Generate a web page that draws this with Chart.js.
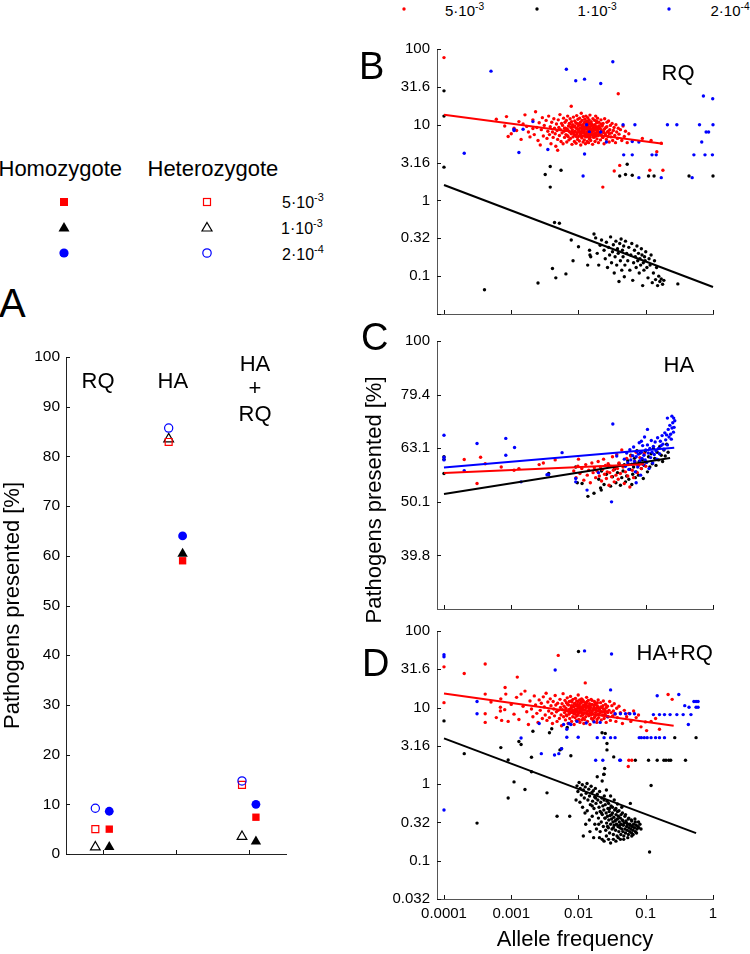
<!DOCTYPE html>
<html><head><meta charset="utf-8">
<script src="https://cdn.jsdelivr.net/npm/chart.js@4.4.1/dist/chart.umd.min.js"></script>
<style>
html,body{margin:0;padding:0;background:#fff;}
body{width:750px;height:954px;position:relative;overflow:hidden;font-family:'Liberation Sans',Arial,Helvetica,sans-serif;color:#000;}
canvas{position:absolute;}
.t{position:absolute;white-space:nowrap;line-height:1;}
.c{transform:translateX(-50%);}
.s{font-size:0.68em;position:relative;}
</style></head><body>
<svg width="750" height="954" style="position:absolute;left:0;top:0">
  <circle cx="404" cy="9" r="1.7" fill="#ff0000"/>
  <circle cx="537" cy="9" r="1.7" fill="#000"/>
  <circle cx="669" cy="9" r="1.7" fill="#0000ff"/>
  <rect x="60" y="198" width="8" height="8" fill="#ff0000"/>
  <polygon points="64,222 69.5,231.5 58.5,231.5" fill="#000"/>
  <circle cx="64" cy="253" r="4.6" fill="#0000ff"/>
  <rect x="203.5" y="198.5" width="7" height="7" fill="none" stroke="#ff0000" stroke-width="1.2"/>
  <polygon points="207,222.5 212,231 202,231" fill="none" stroke="#000" stroke-width="1.2"/>
  <circle cx="207" cy="253" r="4.2" fill="none" stroke="#0000ff" stroke-width="1.2"/>
</svg>
<canvas id="cA" width="300" height="530" style="left:0;top:340px"></canvas>
<canvas id="cB" width="400" height="300" style="left:330px;top:30px"></canvas>
<canvas id="cC" width="400" height="300" style="left:330px;top:325px"></canvas>
<canvas id="cD" width="400" height="339" style="left:330px;top:615px"></canvas>

<div class="t" style="font-size:15px;left:445px;top:3px">5·10<span class="s" style="top:-6px">-3</span></div>
<div class="t" style="font-size:15px;left:577.5px;top:3px">1·10<span class="s" style="top:-6px">-3</span></div>
<div class="t" style="font-size:15px;left:710.5px;top:3px">2·10<span class="s" style="top:-6px">-4</span></div>

<div class="t" style="font-size:22px;left:-1.5px;top:157.5px">Homozygote</div>
<div class="t" style="font-size:22px;left:147.5px;top:157.5px">Heterozygote</div>
<div class="t" style="font-size:16px;left:282px;top:194.5px">5·10<span class="s" style="top:-7px">-3</span></div>
<div class="t" style="font-size:16px;left:281px;top:220.5px">1·10<span class="s" style="top:-7px">-3</span></div>
<div class="t" style="font-size:16px;left:282px;top:247px">2·10<span class="s" style="top:-7px">-4</span></div>

<div class="t" style="font-size:40px;left:-1px;top:283px">A</div>
<div class="t" style="font-size:38px;left:359px;top:47px">B</div>
<div class="t" style="font-size:38px;left:361px;top:317.5px">C</div>
<div class="t" style="font-size:38px;left:362px;top:643.5px">D</div>

<div class="t" style="font-size:22px;left:81.5px;top:370px">RQ</div>
<div class="t" style="font-size:22px;left:157.5px;top:370px">HA</div>
<div class="t c" style="font-size:22px;left:255px;top:353px">HA</div>
<div class="t c" style="font-size:22px;left:255px;top:377px">+</div>
<div class="t c" style="font-size:22px;left:255px;top:403px">RQ</div>

<div class="t" style="font-size:22px;left:661.5px;top:61.5px">RQ</div>
<div class="t" style="font-size:22px;left:663.5px;top:353.5px">HA</div>
<div class="t" style="font-size:22px;left:636.5px;top:642px">HA+RQ</div>

<div class="t" style="font-size:22px;left:373.5px;top:500px;transform:translate(-50%,-50%) rotate(-90deg)">Pathogens presented [%]</div>

<script>
// ---------- Panel A data ----------
const categoriesA = ['RQ', 'HA', 'HA+RQ'];
const catPos = [1, 2, 3];
const homo5e3 = [5.0, 59.0, 7.4];   // filled red square
const homo1e3 = [1.4, 60.4, 2.5];   // filled black triangle
const homo2e4 = [8.6, 64.0, 10.0];  // filled blue circle
const het5e3 = [5.0, 82.9, 13.9];   // open red square
const het1e3 = [1.4, 83.5, 3.5];    // open black triangle
const het2e4 = [9.2, 85.7, 14.7];   // open blue circle
const yTicksA = [0, 10, 20, 30, 40, 50, 60, 70, 80, 90, 100];

// ---------- shared axes for B, C, D ----------
const xTickValues = [0.0001, 0.001, 0.01, 0.1, 1];
const xTickLabels = ['0.0001', '0.001', '0.01', '0.1', '1'];
const yTicksBD = [0.0316, 0.1, 0.316, 1, 3.16, 10, 31.6, 100];
const yLabelsB = ['', '0.1', '0.32', '1', '3.16', '10', '31.6', '100'];
const yLabelsD = ['0.032', '0.1', '0.32', '1', '3.16', '10', '31.6', '100'];
const yTicksC = [39.8, 50.1, 63.1, 79.4, 100];
const yLabelsC = ['39.8', '50.1', '63.1', '79.4', '100'];

// ---------- Panel B (RQ) ----------
const bRed = [[0.0001,77],[0.039,25.6],[0.0078,17.5],[0.0049,4.6],[0.041,2.9],[0.034,2.45],[0.023,1.5],[0.115,2.5],[0.18,2.5],[0.146,4.4],[0.17,5.7],[0.12,6.2],[0.089,6.6],
[0.0006,11.8],[0.0008,9.6],[0.0009,7.0],[0.0010,7.6],[0.0011,9.0],[0.00085,12.8],
[0.0012,8.4],[0.0013,11.0],[0.0014,6.4],[0.0015,10.2],[0.0016,13.5],[0.0018,8.0],[0.0019,6.9],[0.0017,9.5],
[0.0021,11.6],[0.0022,7.4],[0.0023,14.8],[0.0024,9.2],[0.0025,6.2],[0.0026,10.6],[0.0027,5.4],[0.0028,8.6],[0.0029,12.4],[0.0021,8.9],[0.0030,7.1],
[0.0031,9.8],[0.0033,11.4],[0.0034,6.6],[0.0035,8.2],[0.0036,13.0],[0.0037,7.4],[0.0038,9.4],[0.0039,5.6],[0.0040,10.8],[0.0041,8.0],[0.0042,6.8],[0.0043,12.0],[0.0044,9.0],[0.0045,7.6],[0.0046,5.2],[0.0047,10.2],[0.0048,8.4],[0.0049,6.4],[0.0050,11.6],
[0.0051,9.2],[0.0052,7.2],[0.0053,13.6],[0.0054,8.6],[0.0055,6.0],[0.0056,10.4],[0.0057,7.8],[0.0058,9.8],[0.0059,5.6],[0.0060,12.2],[0.0061,8.2],[0.0062,6.8],[0.0063,10.8],[0.0064,9.0],[0.0065,7.4],[0.0066,11.4],[0.0067,5.9],[0.0068,8.8],[0.0069,13.0],[0.0070,7.0],[0.0071,9.6],[0.0072,6.3],[0.0073,10.4],[0.0074,8.0],[0.0075,12.0],[0.0076,6.6],[0.0077,9.2],[0.0078,7.6],[0.0079,11.0],[0.0080,5.5],
[0.0081,8.6],[0.0082,10.0],[0.0083,6.9],[0.0084,12.6],[0.0085,7.8],[0.0086,9.4],[0.0087,6.0],[0.0088,11.2],[0.0089,8.2],[0.0090,7.2],[0.0091,10.6],[0.0092,5.7],[0.0093,9.0],[0.0094,13.2],[0.0095,7.6],[0.0096,8.8],[0.0097,6.4],[0.0098,11.8],[0.0099,9.6],[0.0100,7.0],
[0.0101,10.2],[0.0102,8.4],[0.0103,6.1],[0.0104,12.2],[0.0105,9.0],[0.0106,7.4],[0.0107,10.8],[0.0108,5.4],[0.0109,8.0],[0.0110,14.2],[0.0111,9.8],[0.0112,6.7],[0.0113,11.4],[0.0114,8.6],[0.0115,7.1],[0.0116,10.0],[0.0117,5.9],[0.0118,12.8],[0.0119,9.2],[0.0120,7.8],
[0.0121,8.4],[0.0122,6.3],[0.0123,10.6],[0.0124,11.8],[0.0125,7.3],[0.0126,9.4],[0.0127,5.6],[0.0128,8.8],[0.0129,13.0],[0.0130,6.9],[0.0131,10.2],[0.0132,8.0],[0.0133,7.5],[0.0134,11.2],[0.0135,6.0],[0.0136,9.6],[0.0137,12.4],[0.0138,7.0],[0.0139,8.6],[0.0140,10.8],
[0.0141,5.8],[0.0142,9.0],[0.0143,7.7],[0.0144,11.6],[0.0145,6.5],[0.0146,8.2],[0.0147,10.4],[0.0148,13.4],[0.0149,7.2],[0.0150,9.3],[0.0152,6.2],[0.0154,11.0],[0.0156,8.4],[0.0158,7.4],[0.0160,10.0],[0.0162,5.5],[0.0164,12.0],[0.0166,8.9],[0.0168,6.8],[0.0170,9.8],
[0.0172,7.6],[0.0174,11.4],[0.0176,6.0],[0.0178,8.6],[0.0180,13.0],[0.0182,7.1],[0.0184,9.4],[0.0186,10.6],[0.0188,6.5],[0.0190,8.0],[0.0192,12.2],[0.0194,7.4],[0.0196,9.0],[0.0198,5.8],[0.0200,10.8],
[0.0204,7.8],[0.0208,8.8],[0.0212,6.3],[0.0216,11.6],[0.0220,7.2],[0.0224,9.6],[0.0228,6.8],[0.0232,10.4],[0.0236,8.2],[0.0240,5.6],[0.0245,12.0],[0.0250,7.6],[0.0255,9.2],[0.0260,6.4],[0.0265,10.8],[0.0270,8.0],[0.0275,7.0],[0.0280,11.2],[0.0286,5.9],[0.0292,8.6],[0.0298,9.8],[0.0304,6.9],[0.0310,7.8],[0.0316,10.4],[0.0322,6.2],[0.0330,8.4],[0.0338,9.2],
[0.0346,7.2],[0.0355,5.8],[0.036,10.0],[0.037,8.0],[0.038,6.6],[0.039,9.0],[0.040,7.5],[0.042,8.6],[0.044,6.2],[0.046,9.6],[0.048,7.0],[0.050,8.2],[0.053,5.8],[0.056,7.6],
[0.0062,9.0],[0.0068,7.2],[0.0075,10.2],[0.0082,8.0],[0.0088,9.6],[0.0093,7.0],[0.0099,8.6],[0.0104,10.0],[0.0108,7.6],[0.0113,9.2],[0.0118,8.2],[0.0122,10.6],[0.0127,7.0],[0.0132,9.0],[0.0136,8.0],[0.0141,10.2],[0.0146,7.4],[0.0151,8.8],[0.0157,9.8],[0.0163,7.2],
[0.0169,8.4],[0.0175,10.0],[0.0181,7.8],[0.0187,9.2],[0.0193,8.2],[0.0201,9.6],[0.0209,7.4],[0.0218,8.6],[0.0226,9.9],[0.0235,7.9],[0.0244,8.8],[0.0254,7.2],[0.0264,9.4],[0.0276,8.2],[0.0288,7.6],[0.0070,8.4],[0.0079,9.4],[0.0086,7.4],[0.0095,10.4],[0.0101,8.2],
[0.0111,7.0],[0.0116,9.6],[0.0124,8.8],[0.0129,11.0],[0.0134,7.3],[0.0139,9.8],[0.0144,8.4],[0.0149,6.8],[0.0155,10.4],[0.0160,8.0],[0.0167,9.2],[0.0173,7.0],[0.0179,9.0],[0.0185,11.2],[0.0191,8.6],[0.0197,7.2],[0.0206,9.2],[0.0215,10.2],[0.0222,8.0],[0.0231,6.8]];

const bBlack = [[0.0001,28],[0.0001,13],[0.0001,2.75],[0.0032,2.2],[0.0038,2.8],[0.0038,1.5],[0.0055,2.5],[0.041,2.1],[0.050,2.2],[0.053,3.0],[0.063,2.15],[0.11,2.1],[0.133,2.1],[0.44,2.1],[1.0,2.1],
[0.00040,0.066],[0.0025,0.081],[0.0041,0.126],[0.0046,0.095],[0.0044,0.51],[0.0052,0.50],[0.0065,0.107],[0.0078,0.30],[0.0083,0.16],[0.010,0.245],[0.0137,0.14],[0.0146,0.22],[0.0148,0.19],[0.0152,0.18],[0.017,0.36],[0.018,0.32],[0.019,0.20],[0.020,0.14],[0.021,0.255],[0.022,0.30],
[0.024,0.22],[0.025,0.17],[0.026,0.28],[0.027,0.13],[0.028,0.24],[0.029,0.19],[0.030,0.33],[0.031,0.15],[0.032,0.21],[0.033,0.26],[0.034,0.11],[0.035,0.18],[0.036,0.29],[0.037,0.14],[0.038,0.23],[0.039,0.20],[0.040,0.085],[0.041,0.27],[0.042,0.16],[0.043,0.31],[0.044,0.12],[0.045,0.22],[0.046,0.18],[0.047,0.25],[0.048,0.098],[0.049,0.14],[0.050,0.29],
[0.052,0.20],[0.054,0.16],[0.056,0.24],[0.058,0.12],[0.060,0.19],[0.062,0.27],[0.064,0.088],[0.066,0.15],[0.068,0.22],[0.070,0.18],[0.072,0.13],[0.074,0.25],[0.076,0.16],[0.078,0.20],[0.080,0.11],[0.082,0.17],[0.084,0.14],[0.086,0.23],[0.088,0.19],[0.090,0.075],[0.092,0.15],[0.094,0.12],[0.096,0.18],[0.098,0.16],[0.100,0.21],
[0.104,0.13],[0.108,0.095],[0.112,0.17],[0.116,0.14],[0.120,0.19],[0.125,0.082],[0.130,0.11],[0.135,0.16],[0.140,0.09],[0.145,0.13],[0.150,0.075],[0.156,0.10],[0.162,0.085],[0.170,0.092],[0.178,0.078],[0.186,0.088],[0.30,0.079]];

const bBlue = [[0.0005,51],[0.0066,54],[0.0091,38],[0.0123,40],[0.0214,35],[0.0324,68],[0.0002,4.2],[0.0011,8.7],[0.0011,8.4],[0.0015,8.7],[0.0013,4.3],[0.0021,11],[0.0035,4.7],[0.0117,2.1],[0.0123,4.1],[0.0132,10],[0.0145,8],[0.0214,8],[0.026,5.9],[0.046,10],[0.047,4.0],[0.063,4.0],[0.069,10],[0.063,6.0],[0.079,5.9],[0.079,2.0],[0.124,4.0],[0.143,4.0],[0.17,2.0],[0.21,10],[0.29,10],[0.49,2.0],[0.52,4.0],[0.63,10],[0.68,5.9],[0.72,24],[0.79,8],[0.86,8],[0.76,4.0],[0.98,4.0],[0.99,22],[1.0,10]];

const bRedFit = [[0.0001,13.5],[0.18,5.6]];
const bBlackFit = [[0.0001,1.6],[1,0.072]];

// ---------- Panel C (HA) ----------
const cBlue = [[0.0001,66.7],[0.0001,60.7],[0.0001,60.0],[0.0002,57.3],[0.00031,64.4],[0.00083,65.8],[0.00083,61.2],[0.00112,63.3],[0.0014,54.6],[0.0057,61.9],[0.0034,56.3],[0.0036,56.3],[0.0091,54.6],[0.0091,55.4],[0.0134,52.7],[0.0324,70],[0.031,50.1],[0.0198,56.8],[0.037,61.0],
[0.048,60.2],[0.050,58.4],[0.052,61.8],[0.054,59.3],[0.056,57.6],[0.058,62.7],[0.060,60.0],[0.062,58.9],[0.064,61.1],[0.066,63.4],[0.068,59.6],[0.070,57.0],[0.072,60.8],[0.074,62.2],[0.076,58.2],[0.078,61.5],[0.080,64.6],[0.082,59.8],[0.084,56.2],[0.086,62.0],[0.088,60.4],[0.090,63.8],[0.092,58.8],[0.094,61.2],[0.096,66.2],[0.098,60.0],[0.100,62.6],
[0.103,59.4],[0.106,64.0],[0.109,61.8],[0.112,57.8],[0.115,63.0],[0.118,60.6],[0.121,65.2],[0.124,62.0],[0.127,59.2],[0.130,63.6],[0.134,61.4],[0.138,64.8],[0.142,62.4],[0.146,60.2],[0.150,66.0],[0.155,63.0],[0.160,61.6],[0.165,65.0],[0.170,63.8],[0.175,66.6],[0.180,64.2],[0.186,62.8],[0.192,67.4],[0.198,65.4],
[0.204,66.8],[0.210,64.0],[0.216,68.4],[0.222,66.2],[0.228,69.6],[0.234,67.0],[0.240,65.6],[0.246,68.8],[0.252,70.4],[0.258,67.6],[0.264,69.0],[0.270,71.0],[0.245,72.4],[0.26,71.8],[0.21,71.8],[0.106,68.4],[0.086,65.0],[0.072,54.4]];

const cRed = [[0.0002,60.1],[0.00035,60.7],[0.00031,54.2],[0.00041,59.0],[0.00071,58.2],[0.0013,57.8],[0.003,59.2],[0.0045,60.0],[0.010,60.2],[0.0026,58.8],[0.0011,57.4],
[0.0085,57.2],[0.0092,55.6],[0.0098,58.4],[0.0105,56.6],[0.0112,57.8],[0.012,55.0],[0.0128,58.8],[0.0135,56.2],[0.0142,57.4],[0.015,54.4],[0.0158,59.2],[0.0165,56.8],[0.0172,58.0],[0.018,55.6],[0.0188,57.2],[0.0196,59.6],[0.0204,56.0],[0.0212,58.2],[0.022,54.8],[0.0228,57.6],[0.0236,60.2],[0.0244,56.4],[0.0252,58.6],[0.026,55.4],[0.0268,57.0],[0.0276,59.0],[0.0284,53.8],[0.0292,56.8],[0.030,58.4],
[0.031,55.8],[0.032,60.8],[0.033,57.4],[0.034,54.6],[0.035,58.0],[0.036,56.2],[0.037,61.4],[0.038,57.8],[0.039,55.2],[0.040,59.2],[0.042,56.6],[0.044,62.6],[0.046,58.2],[0.048,54.2],[0.050,57.0],[0.052,60.4],[0.054,56.0],[0.056,58.8],[0.058,53.4],[0.060,61.0],[0.063,57.4],[0.066,55.6],[0.069,59.6],[0.072,62.0],[0.075,56.8],[0.078,58.6],[0.082,60.6],[0.086,57.8],[0.090,59.0],[0.095,61.6],[0.100,58.4]];

const cBlack = [[0.0001,60.8],[0.0001,60.2],[0.0001,56.6],[0.0036,56.6],[0.0091,58.2],[0.0096,54.4],[0.0113,54.2],[0.0138,51.3],[0.0213,53.2],[0.0218,52.7],[0.017,52.0],
[0.020,55.2],[0.022,57.2],[0.024,54.0],[0.026,56.4],[0.028,58.6],[0.030,53.6],[0.032,55.8],[0.034,57.6],[0.036,54.4],[0.038,56.8],[0.040,59.0],[0.042,53.8],[0.044,55.6],[0.046,57.2],[0.048,58.8],[0.050,54.6],[0.052,56.0],[0.054,59.8],[0.056,55.2],[0.058,57.6],[0.060,61.2],[0.062,54.0],[0.064,56.4],[0.066,58.2],[0.068,60.4],[0.070,55.6],[0.072,57.0],[0.074,62.4],[0.076,58.8],[0.078,56.2],[0.080,59.6],
[0.083,61.8],[0.086,57.8],[0.089,60.0],[0.092,55.4],[0.095,58.6],[0.098,62.2],[0.102,59.4],[0.106,57.0],[0.110,60.8],[0.115,58.2],[0.120,61.6],[0.125,59.0],[0.130,63.0],[0.136,60.4],[0.142,58.6],[0.148,62.0],[0.155,60.0],[0.162,63.6],[0.170,61.2],[0.178,59.6],[0.186,62.6],[0.195,61.0],[0.205,64.2],[0.215,62.0]];

const cBlueFit = [[0.0001,58.1],[0.265,63.2]];
const cRedFit = [[0.0001,56.7],[0.094,58.9]];
const cBlackFit = [[0.0001,51.8],[0.23,60.5]];

// ---------- Panel D (HA+RQ) ----------
const dRed = [[0.0001,34],[0.0001,11.6],[0.0002,27.8],[0.00041,37],[0.00041,15],[0.00041,8.3],[0.00041,6.4],[0.00069,10.1],[0.00069,9.0],[0.00072,6.8],[0.00081,18.3],[0.00083,15],[0.00123,25],[0.0014,15],[0.005,48],[0.0126,21],
[0.0005,11.8],[0.0006,7.4],[0.0007,13.0],[0.0008,9.4],[0.0009,6.6],[0.0010,11.0],[0.0011,8.2],[0.0012,13.6],[0.0013,7.0],[0.0015,10.4],[0.0016,16.4],[0.0017,8.8],[0.0018,6.0],[0.0019,12.2],[0.0020,9.6],[0.0021,7.6],[0.0022,14.2],[0.0023,10.8],[0.0024,8.4],[0.0025,6.4],[0.0026,12.6],[0.0027,9.2],[0.0028,11.4],[0.0029,7.2],[0.0030,13.8],
[0.0031,10.2],[0.0032,8.0],[0.0033,15.4],[0.0034,6.8],[0.0035,11.8],[0.0036,9.0],[0.0037,7.4],[0.0038,13.0],[0.0039,10.6],[0.0040,8.4],[0.0041,6.2],[0.0042,12.0],[0.0043,9.6],[0.0044,7.8],[0.0045,14.4],[0.0046,10.8],[0.0047,8.8],[0.0048,6.6],[0.0049,11.4],[0.0050,9.2],[0.0052,7.2],[0.0053,12.8],[0.0054,10.0],[0.0055,8.0],[0.0056,5.8],[0.0057,11.2],[0.0058,9.4],[0.0059,15.2],[0.0060,7.6],
[0.0061,10.4],[0.0062,8.6],[0.0063,12.4],[0.0064,6.9],[0.0065,9.8],[0.0066,11.6],[0.0067,7.8],[0.0068,13.4],[0.0069,9.0],[0.0070,6.2],[0.0071,10.8],[0.0072,8.2],[0.0073,12.0],[0.0074,7.2],[0.0075,9.6],[0.0076,14.0],[0.0077,8.6],[0.0078,10.6],[0.0079,6.6],[0.0080,11.8],
[0.0081,9.2],[0.0082,7.6],[0.0083,12.8],[0.0084,8.4],[0.0085,10.2],[0.0086,6.0],[0.0087,11.2],[0.0088,9.4],[0.0089,7.4],[0.0090,13.2],[0.0091,8.8],[0.0092,10.6],[0.0093,6.8],[0.0094,12.2],[0.0095,9.0],[0.0096,7.8],[0.0097,11.0],[0.0098,8.2],[0.0099,14.6],[0.0100,9.8],
[0.0101,7.0],[0.0102,10.4],[0.0103,8.6],[0.0104,12.6],[0.0105,6.4],[0.0106,9.4],[0.0107,11.4],[0.0108,7.8],[0.0109,10.0],[0.0110,8.8],[0.0111,13.0],[0.0112,6.9],[0.0113,9.6],[0.0114,11.8],[0.0115,8.0],[0.0116,10.6],[0.0117,7.3],[0.0118,12.2],[0.0119,9.2],[0.0120,6.2],
[0.0122,10.8],[0.0124,8.4],[0.0126,11.6],[0.0128,7.6],[0.0130,9.8],[0.0132,13.6],[0.0134,8.8],[0.0136,6.6],[0.0138,10.4],[0.0140,12.4],[0.0142,7.8],[0.0144,9.4],[0.0146,11.2],[0.0148,6.0],[0.0150,8.6],[0.0152,10.0],[0.0154,12.8],[0.0156,7.2],[0.0158,9.0],[0.0160,11.0],
[0.0163,8.2],[0.0166,6.8],[0.0169,10.2],[0.0172,12.0],[0.0175,7.6],[0.0178,9.6],[0.0181,11.4],[0.0184,8.0],[0.0187,6.4],[0.0190,10.6],[0.0193,9.0],[0.0196,12.6],[0.0199,7.4],
[0.0203,9.8],[0.0208,8.4],[0.0213,11.6],[0.0218,6.9],[0.0223,10.0],[0.0228,8.0],[0.0234,12.2],[0.0240,7.2],[0.0246,9.4],[0.0252,11.0],[0.0258,6.4],[0.0264,8.8],[0.0270,10.4],[0.0277,7.6],[0.0284,9.2],[0.0291,12.0],[0.0298,6.8],[0.0306,8.6],[0.0314,10.6],[0.0322,7.8],[0.0330,9.0],[0.034,11.2],[0.035,8.2],[0.036,6.6],[0.037,9.8],[0.038,7.4],
[0.040,10.4],[0.042,8.6],[0.045,6.2],[0.048,9.2],[0.052,7.6],[0.056,8.4],[0.060,6.6],[0.066,9.0],[0.072,7.4],[0.078,8.0],[0.085,5.6],[0.099,6.5],[0.103,5.0],[0.12,6.6],[0.14,7.2],[0.16,5.2],[0.215,14.8],[0.247,12.8],[0.056,2.05],[0.062,2.05],[0.055,1.7],
[0.0064,9.2],[0.0069,11.0],[0.0074,8.6],[0.0079,10.0],[0.0084,9.0],[0.0089,11.4],[0.0094,8.0],[0.0099,10.2],[0.0104,9.0],[0.0109,11.8],[0.0114,8.4],[0.0119,10.4],[0.0125,9.2],[0.0131,11.2],[0.0137,8.2],[0.0143,10.0],[0.0149,9.4],[0.0155,11.0],[0.0161,8.4],[0.0167,9.6],
[0.0173,10.8],[0.0179,8.6],[0.0185,9.8],[0.0191,11.6],[0.0197,8.2],[0.0205,9.4],[0.0215,10.2],[0.0225,8.8],[0.0236,9.6],[0.0248,8.2],[0.0260,10.0],[0.0272,8.6],[0.0066,8.0],[0.0072,9.4],[0.0078,12.2],[0.0083,10.6],[0.0088,8.2],[0.0093,9.6],[0.0098,12.0],[0.0103,10.8],
[0.0108,8.8],[0.0113,12.8],[0.0118,10.0],[0.0123,7.0],[0.0129,10.6],[0.0135,12.0],[0.0141,9.0],[0.0147,10.6],[0.0153,8.0],[0.0159,12.4],[0.0165,9.2],[0.0171,7.4],[0.0177,11.0],[0.0183,9.2],[0.0189,7.0],[0.0195,10.0],[0.0211,9.0],[0.0231,10.6],[0.0243,8.8],[0.0255,7.8]];

const dBlack = [[0.0001,6.7],[0.0002,2.5],[0.00031,0.31],[0.0007,3.0],[0.0009,2.07],[0.0009,0.66],[0.0011,1.07],[0.0016,0.85],[0.0013,3.6],[0.0014,3.3],[0.0020,1.45],[0.0021,4.9],[0.0020,2.24],[0.0034,0.77],[0.0048,0.38],[0.0037,4.7],[0.0040,5.3],[0.0053,2.8],[0.0056,2.9],[0.0074,0.38],[0.0077,2.35],[0.0068,5.5],[0.010,54],[0.0118,0.21],
[0.0224,4.7],[0.0250,4.6],[0.0265,3.4],[0.0265,2.8],[0.0334,2.27],[0.0237,1.34],[0.0245,1.6],[0.059,0.56],[0.114,0.13],[0.12,0.96],[0.070,2.05],[0.11,2.05],[0.148,2.05],[0.186,2.05],[0.20,2.05],[0.22,2.05],[0.235,2.05],[0.39,2.05],[0.27,4.05],[0.56,4.05],
[0.0095,0.95],[0.0098,0.80],[0.0102,1.05],[0.0106,0.88],[0.0110,0.72],[0.0114,0.98],[0.0118,0.84],[0.0122,0.66],[0.0126,0.92],[0.0130,0.76],[0.0134,1.02],[0.0138,0.62],[0.0142,0.86],[0.0146,0.70],[0.0150,0.54],[0.0154,0.94],[0.0158,0.78],[0.0162,0.60],[0.0166,0.82],[0.0170,0.48],
[0.0174,0.68],[0.0178,0.88],[0.0182,0.56],[0.0186,0.42],[0.0190,0.74],[0.0194,0.62],[0.0198,0.36],[0.0202,0.50],[0.0206,0.80],[0.0210,0.44],[0.0214,0.58],[0.0218,0.32],[0.0222,0.66],[0.0226,0.40],[0.0230,0.52],[0.0234,0.28],[0.0238,0.46],[0.0242,0.70],[0.0246,0.36],[0.0250,0.54],
[0.0254,0.25],[0.0258,0.42],[0.0262,0.31],[0.0266,0.60],[0.0270,0.38],[0.0274,0.48],[0.0278,0.27],[0.0282,0.34],[0.0286,0.44],[0.0290,0.23],[0.0295,0.39],[0.0300,0.30],[0.0305,0.52],[0.0310,0.35],[0.0315,0.26],[0.0320,0.42],[0.0325,0.32],[0.0330,0.22],[0.0335,0.37],[0.0340,0.29],
[0.0345,0.46],[0.0350,0.33],[0.0356,0.25],[0.0362,0.40],[0.0368,0.30],[0.0374,0.21],[0.0380,0.35],[0.0386,0.28],[0.0392,0.38],[0.0398,0.24],[0.0405,0.32],[0.0412,0.27],[0.0419,0.36],[0.0426,0.22],[0.0433,0.30],[0.0440,0.26],[0.0448,0.34],[0.0456,0.24],[0.0464,0.29],[0.0472,0.21],
[0.0480,0.31],[0.0490,0.26],[0.0500,0.23],[0.0510,0.33],[0.0520,0.28],[0.0530,0.25],[0.0540,0.30],[0.0552,0.22],[0.0564,0.27],[0.0576,0.24],[0.0588,0.29],[0.0600,0.26],[0.0615,0.23],[0.0630,0.28],[0.0645,0.25],[0.0660,0.30],[0.0680,0.27],[0.0700,0.24],[0.0720,0.29],[0.0740,0.26],[0.0760,0.28],[0.0790,0.27],[0.0820,0.30],
[0.0092,0.62],[0.0105,0.58],[0.0115,0.50],[0.0125,0.42],[0.0135,0.45],[0.0128,0.30],[0.0145,0.34],[0.0160,0.38],[0.0175,0.30],[0.0148,0.24],[0.0168,0.20],[0.0185,0.26],[0.0205,0.20],[0.0225,0.19],[0.0240,0.18],[0.0260,0.21],[0.0280,0.19],[0.0300,0.17],[0.0360,0.18],[0.0420,0.19],
[0.0260,0.84],[0.0300,0.70],[0.0340,0.62],[0.0380,0.55],[0.0440,0.50],[0.0500,0.40],[0.0560,0.36],[0.0620,0.33],[0.0700,0.32],[0.0225,1.1],[0.019,1.25],[0.024,1.35],
[0.020,0.30],[0.022,0.42],[0.025,0.36],[0.027,0.28],[0.029,0.48],[0.031,0.40],[0.033,0.27],[0.036,0.34],[0.038,0.44],[0.041,0.29],[0.043,0.40],[0.046,0.33],[0.049,0.38],[0.052,0.31],[0.055,0.35],[0.058,0.30],[0.061,0.34],[0.065,0.22],[0.069,0.35],[0.073,0.23],
[0.078,0.32],[0.085,0.26],[0.028,0.56],[0.032,0.50],[0.036,0.48],[0.040,0.45],[0.045,0.42],[0.024,0.62],[0.018,0.66],[0.016,0.52],[0.021,0.24],[0.033,0.19],[0.039,0.20],[0.047,0.19],[0.054,0.20],[0.062,0.21]];

const dBlue = [[0.0001,49],[0.0001,46],[0.0001,0.46],[0.00031,12],[0.00031,8.3],[0.0045,31],[0.0123,55],[0.031,50],[0.030,17],[0.0014,4.0],[0.0026,6.2],[0.0028,2.5],[0.0044,2.4],[0.0051,2.5],[0.0056,2.9],[0.0067,4.1],[0.0099,4.1],[0.0067,5.2],[0.0072,6.2],[0.0077,6.0],
[0.018,2.05],[0.023,2.05],[0.041,2.05],[0.042,2.05],[0.019,4.05],[0.024,4.05],[0.030,4.05],[0.035,4.05],
[0.080,4.05],[0.086,4.05],[0.095,4.05],[0.105,4.05],[0.12,4.05],[0.14,4.05],[0.16,4.05],[0.19,4.05],
[0.13,8.1],[0.16,8.1],[0.19,8.1],[0.23,8.1],[0.29,8.1],[0.36,8.1],[0.148,14.3],[0.31,14.8],[0.38,10.6],[0.44,10.1],[0.52,12],[0.56,12],[0.56,10.1],[0.60,12],[0.60,10.1],[0.47,8.1],[0.43,6.0],
[0.006,6.0],[0.0095,6.6],[0.013,6.3],[0.017,6.5],[0.021,6.4],[0.027,7.6],[0.035,8.3],[0.042,8.3],[0.05,8.3],[0.058,8.3],[0.068,8.3]];

const dRedFit = [[0.0001,15.3],[0.26,5.8]];
const dBlackFit = [[0.0001,3.96],[0.56,0.229]];

// ---------- drawing ----------
const RED = '#ff0000', BLACK = '#000000', BLUE = '#0000ff';
Chart.defaults.font.family = "'Liberation Sans', Arial, Helvetica, sans-serif";
Chart.defaults.color = '#000';

const inwardTicks = {
  id: 'inwardTicks',
  afterDraw(chart) {
    const {ctx, chartArea} = chart;
    ctx.save();
    ctx.strokeStyle = '#111';
    ctx.lineWidth = 1;
    for (const s of Object.values(chart.scales)) {
      for (const t of s.ticks) {
        const p = Math.round(s.getPixelForValue(t.value)) + 0.5;
        ctx.beginPath();
        if (s.axis === 'x') { ctx.moveTo(p, chartArea.bottom); ctx.lineTo(p, chartArea.bottom - 4); }
        else { ctx.moveTo(chartArea.left, p); ctx.lineTo(chartArea.left + 4, p); }
        ctx.stroke();
      }
    }
    ctx.restore();
  }
};

const toXY = a => a.map(p => ({x: p[0], y: p[1]}));
const dots = (arr, color, order) => ({data: toXY(arr), pointRadius: 1.7, pointBorderWidth: 0, pointBackgroundColor: color, showLine: false, order, clip: false});
const fit = (arr, color) => ({data: toXY(arr), showLine: true, borderColor: color, borderWidth: 2, pointRadius: 0, fill: false, order: 0, clip: false});

const baseOpts = {responsive: false, animation: false, events: [], devicePixelRatio: 1,
  plugins: {legend: {display: false}, tooltip: {enabled: false}}};

// Panel A
const catPts = (vals, off) => vals.map((v, i) => ({x: catPos[i] + off, y: v}));
const OFF_HET = -0.1, OFF_HOM = 0.09;
new Chart(document.getElementById('cA'), {
  type: 'scatter',
  data: {labels: categoriesA, datasets: [
    {data: catPts(het2e4, OFF_HET), pointStyle: 'circle', pointRadius: 4.1, pointBackgroundColor: 'rgba(0,0,0,0)', pointBorderColor: BLUE, pointBorderWidth: 1.2},
    {data: catPts(het5e3, OFF_HET), pointStyle: 'rect', pointRadius: 4.9, pointBackgroundColor: 'rgba(0,0,0,0)', pointBorderColor: RED, pointBorderWidth: 1.2},
    {data: catPts(het1e3, OFF_HET), pointStyle: 'triangle', pointRadius: 5.6, pointBackgroundColor: 'rgba(0,0,0,0)', pointBorderColor: BLACK, pointBorderWidth: 1.2},
    {data: catPts(homo2e4, OFF_HOM), pointStyle: 'circle', pointRadius: 4.4, pointBackgroundColor: BLUE, pointBorderWidth: 0},
    {data: catPts(homo5e3, OFF_HOM), pointStyle: 'rect', pointRadius: 5.2, pointBackgroundColor: RED, pointBorderWidth: 0},
    {data: catPts(homo1e3, OFF_HOM), pointStyle: 'triangle', pointRadius: 6, pointBackgroundColor: BLACK, pointBorderWidth: 0}
  ].map(d => Object.assign(d, {clip: false}))},
  options: Object.assign({}, baseOpts, {
    layout: {autoPadding: false, padding: {left: 0, top: 17, right: 14, bottom: 0}},
    scales: {
      x: {type: 'linear', min: 0.5, max: 3.5, bounds: 'data',
          afterBuildTicks: s => { s.ticks = catPos.map(v => ({value: v})); },
          ticks: {display: false}, grid: {display: false, drawTicks: false},
          border: {display: true, color: '#222', width: 1},
          afterFit: s => { s.height = 16; }},
      y: {type: 'linear', min: 0, max: 100, bounds: 'data',
          afterBuildTicks: s => { s.ticks = yTicksA.map(v => ({value: v})); },
          ticks: {padding: 6, font: {size: 15.5}, color: '#000', callback: v => String(v)},
          grid: {display: false, drawTicks: false},
          border: {display: true, color: '#222', width: 1},
          title: {display: true, text: 'Pathogens presented [%]', font: {size: 22}, color: '#000', padding: {top: 0, bottom: 0}},
          afterFit: s => { s.width = 66; }}
    }
  }),
  plugins: [inwardTicks]
});

function logPanel(id, cfg) {
  return new Chart(document.getElementById(id), {
    type: 'scatter',
    data: {datasets: cfg.datasets},
    options: Object.assign({}, baseOpts, {
      layout: {autoPadding: false, padding: {left: 0, top: cfg.padTop, right: 17, bottom: 0}},
      scales: {
        x: {type: 'logarithmic', min: 0.0000787, max: 1, bounds: 'data',
            afterBuildTicks: s => { s.ticks = xTickValues.map(v => ({value: v})); },
            ticks: {display: cfg.xLabels, autoSkip: false, maxRotation: 0, padding: 6, font: {size: 15}, color: '#000', callback: (v, i) => xTickLabels[i]},
            grid: {display: false, drawTicks: false},
            border: {display: true, color: '#555', width: 1},
            title: {display: !!cfg.xTitle, text: cfg.xTitle || '', font: {size: 22}, color: '#000', padding: {top: 0, bottom: 1}},
            afterFit: s => { s.height = cfg.xHeight; }},
        y: {type: 'logarithmic', min: cfg.yMin, max: cfg.yMax, bounds: 'data',
            afterBuildTicks: s => { s.ticks = cfg.yTicks.map(v => ({value: v})); },
            ticks: {autoSkip: false, padding: 7, font: {size: 15}, color: '#000', callback: (v, i) => cfg.yLabels[i]},
            grid: {display: false, drawTicks: false},
            border: {display: true, color: '#555', width: 1},
            afterFit: s => { s.width = 107; }}
      }
    }),
    plugins: [inwardTicks]
  });
}

logPanel('cB', {padTop: 19, xHeight: 6, xLabels: false, yMin: 0.03162, yMax: 100, yTicks: yTicksBD, yLabels: yLabelsB,
  datasets: [fit(bRedFit, RED), fit(bBlackFit, BLACK), dots(bBlue, BLUE, 1), dots(bRed, RED, 2), dots(bBlack, BLACK, 3)]});
logPanel('cC', {padTop: 13, xHeight: 13, xLabels: false, yMin: 31.62, yMax: 100, yTicks: yTicksC, yLabels: yLabelsC,
  datasets: [fit(cBlueFit, BLUE), fit(cRedFit, RED), fit(cBlackFit, BLACK), dots(cBlue, BLUE, 1), dots(cRed, RED, 2), dots(cBlack, BLACK, 3)]});
logPanel('cD', {padTop: 11, xHeight: 55, xLabels: true, xTitle: 'Allele frequency', yMin: 0.03162, yMax: 100, yTicks: yTicksBD, yLabels: yLabelsD,
  datasets: [fit(dRedFit, RED), fit(dBlackFit, BLACK), dots(dBlue, BLUE, 1), dots(dRed, RED, 2), dots(dBlack, BLACK, 3)]});
</script>
</body></html>
